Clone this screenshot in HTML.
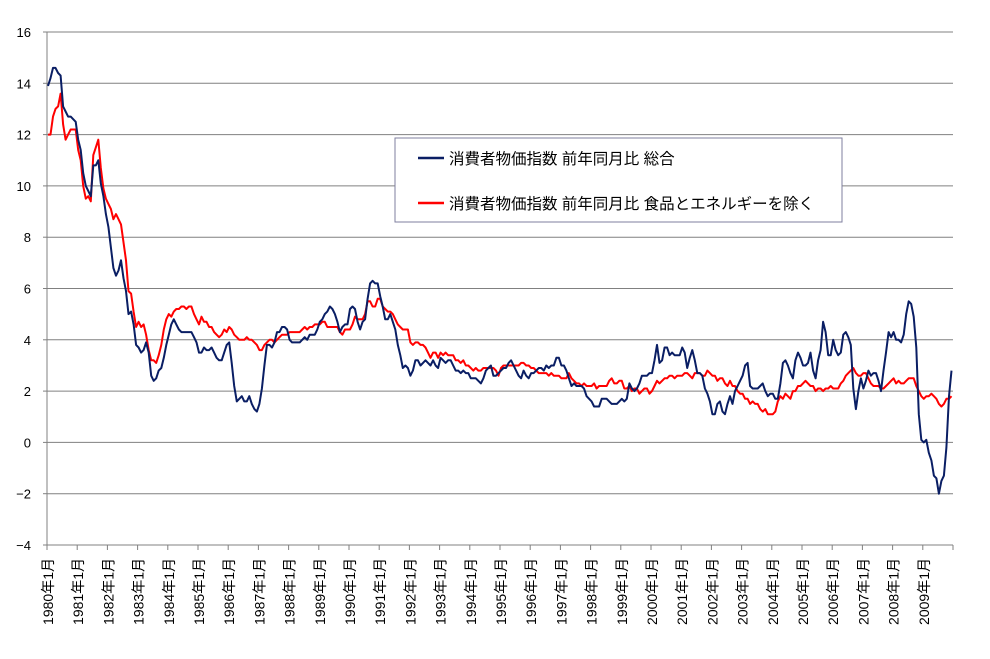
<!DOCTYPE html>
<html><head><meta charset="utf-8"><style>
body{margin:0;background:#fff;}
svg text{font-family:"Liberation Sans","Noto Sans CJK JP",sans-serif;}
</style></head><body>
<svg id="chart" width="990" height="654" xmlns="http://www.w3.org/2000/svg">
<g id="grid"></g>
<g id="axes"></g>
<g id="series"></g>
<g>
<rect x="395" y="138" width="447" height="84" fill="#fff" stroke="#7f7f9f" stroke-width="1"/>
<line x1="418" y1="158" x2="444" y2="158" stroke="#0a1e64" stroke-width="2.5"/>
<text x="449" y="164" font-size="15.5" fill="#000">消費者物価指数  前年同月比  総合</text>
<line x1="418" y1="203" x2="444" y2="203" stroke="#ff0000" stroke-width="2.5"/>
<text x="449" y="209" font-size="15.5" fill="#000">消費者物価指数  前年同月比  食品とエネルギーを除く</text>
</g>
</svg>
<script>
const years = [1980,1981,1982,1983,1984,1985,1986,1987,1988,1989,1990,1991,1992,1993,1994,1995,1996,1997,1998,1999,2000,2001,2002,2003,2004,2005,2006,2007,2008,2009];
const yTicks = [16,14,12,10,8,6,4,2,0,-2,-4];
const headline = [
13.9,14.2,14.6,14.6,14.4,14.3,13.1,12.9,12.7,12.7,12.6,12.5,
11.8,11.4,10.5,10.0,9.8,9.6,10.8,10.8,11.0,10.1,9.6,8.9,
8.4,7.6,6.8,6.5,6.7,7.1,6.4,5.9,5.0,5.1,4.6,3.8,
3.7,3.5,3.6,3.9,3.5,2.6,2.4,2.5,2.8,2.9,3.3,3.8,
4.2,4.6,4.8,4.6,4.4,4.3,4.3,4.3,4.3,4.3,4.1,3.9,
3.5,3.5,3.7,3.6,3.6,3.7,3.5,3.3,3.2,3.2,3.5,3.8,
3.9,3.1,2.2,1.6,1.7,1.8,1.6,1.6,1.8,1.5,1.3,1.2,
1.5,2.1,3.0,3.8,3.8,3.7,3.9,4.3,4.3,4.5,4.5,4.4,
4.0,3.9,3.9,3.9,3.9,4.0,4.1,4.0,4.2,4.2,4.2,4.4,
4.7,4.8,5.0,5.1,5.3,5.2,5.0,4.7,4.3,4.5,4.6,4.6,
5.2,5.3,5.2,4.7,4.4,4.7,4.8,5.6,6.2,6.3,6.2,6.2,
5.7,5.3,4.8,4.8,5.0,4.7,4.4,3.8,3.4,2.9,3.0,2.9,
2.6,2.8,3.2,3.2,3.0,3.1,3.2,3.1,3.0,3.2,3.0,2.9,
3.3,3.2,3.1,3.2,3.2,3.0,2.8,2.8,2.7,2.8,2.7,2.7,
2.5,2.5,2.5,2.4,2.3,2.5,2.8,2.9,3.0,2.6,2.6,2.7,
2.8,2.9,2.9,3.1,3.2,3.0,2.8,2.6,2.5,2.8,2.6,2.5,
2.7,2.7,2.8,2.9,2.9,2.8,3.0,2.9,3.0,3.0,3.3,3.3,
3.0,3.0,2.8,2.5,2.2,2.3,2.2,2.2,2.2,2.1,1.8,1.7,
1.6,1.4,1.4,1.4,1.7,1.7,1.7,1.6,1.5,1.5,1.5,1.6,
1.7,1.6,1.7,2.3,2.1,2.0,2.1,2.3,2.6,2.6,2.6,2.7,
2.7,3.2,3.8,3.1,3.2,3.7,3.7,3.4,3.5,3.4,3.4,3.4,
3.7,3.5,2.9,3.3,3.6,3.2,2.7,2.7,2.6,2.1,1.9,1.6,
1.1,1.1,1.5,1.6,1.2,1.1,1.5,1.8,1.5,2.0,2.2,2.4,
2.6,3.0,3.1,2.2,2.1,2.1,2.1,2.2,2.3,2.0,1.8,1.9,
1.9,1.7,1.7,2.3,3.1,3.2,3.0,2.7,2.5,3.2,3.5,3.3,
3.0,3.0,3.1,3.5,2.8,2.5,3.2,3.6,4.7,4.3,3.4,3.4,
4.0,3.6,3.4,3.5,4.2,4.3,4.1,3.8,2.1,1.3,2.0,2.5,
2.1,2.4,2.8,2.6,2.7,2.7,2.4,2.0,2.8,3.5,4.3,4.1,
4.3,4.0,4.0,3.9,4.2,5.0,5.5,5.4,4.9,3.7,1.1,0.1,
0.0,0.1,-0.4,-0.7,-1.3,-1.4,-2.0,-1.5,-1.3,-0.2,1.8,2.8];
const core = [
12.0,12.0,12.7,13.0,13.1,13.6,12.4,11.8,12.0,12.2,12.2,12.2,
11.4,11.0,10.0,9.5,9.6,9.4,11.2,11.5,11.8,10.7,9.9,9.5,
9.3,9.1,8.7,8.9,8.7,8.5,7.8,7.1,5.9,5.8,5.1,4.5,
4.7,4.5,4.6,4.2,3.6,3.2,3.2,3.1,3.4,3.8,4.4,4.8,
5.0,4.9,5.1,5.2,5.2,5.3,5.3,5.2,5.3,5.3,5.0,4.8,
4.6,4.9,4.7,4.7,4.5,4.5,4.3,4.2,4.1,4.2,4.4,4.3,
4.5,4.4,4.2,4.1,4.0,4.0,4.0,4.1,4.0,4.0,3.9,3.8,
3.6,3.6,3.8,3.9,4.0,4.0,3.9,4.0,4.1,4.2,4.2,4.2,
4.3,4.3,4.3,4.3,4.3,4.4,4.5,4.4,4.5,4.5,4.6,4.6,
4.6,4.7,4.7,4.5,4.5,4.5,4.5,4.5,4.3,4.2,4.4,4.4,
4.4,4.6,4.9,4.8,4.8,4.8,5.0,5.5,5.5,5.3,5.3,5.6,
5.6,5.3,5.2,5.1,5.1,5.0,4.8,4.6,4.5,4.4,4.4,4.4,
3.9,3.8,3.9,3.9,3.8,3.8,3.7,3.5,3.3,3.5,3.5,3.3,
3.5,3.4,3.5,3.4,3.4,3.4,3.2,3.2,3.1,3.2,3.0,3.0,
2.9,2.8,2.9,2.8,2.8,2.9,2.9,2.9,2.9,2.9,2.8,2.6,
2.9,3.0,3.0,3.0,3.0,3.0,3.0,3.0,3.1,3.1,3.0,3.0,
2.9,2.9,2.8,2.7,2.7,2.7,2.7,2.6,2.7,2.6,2.6,2.6,
2.5,2.5,2.5,2.7,2.5,2.4,2.3,2.3,2.2,2.3,2.2,2.2,
2.2,2.3,2.1,2.2,2.2,2.2,2.2,2.4,2.5,2.3,2.3,2.4,
2.4,2.1,2.1,2.2,2.0,2.1,2.1,1.9,2.0,2.1,2.1,1.9,
2.0,2.2,2.4,2.3,2.4,2.5,2.5,2.6,2.6,2.5,2.6,2.6,
2.6,2.7,2.7,2.6,2.5,2.7,2.7,2.7,2.6,2.6,2.8,2.7,
2.6,2.6,2.4,2.5,2.5,2.3,2.2,2.4,2.2,2.2,2.0,1.9,
1.9,1.7,1.7,1.5,1.6,1.5,1.5,1.3,1.2,1.3,1.1,1.1,
1.1,1.2,1.6,1.8,1.7,1.9,1.8,1.7,2.0,2.0,2.2,2.2,
2.3,2.4,2.3,2.2,2.2,2.0,2.1,2.1,2.0,2.1,2.1,2.2,
2.1,2.1,2.1,2.3,2.4,2.6,2.7,2.8,2.9,2.7,2.6,2.6,
2.7,2.7,2.5,2.3,2.2,2.2,2.2,2.1,2.1,2.2,2.3,2.4,
2.5,2.3,2.4,2.3,2.3,2.4,2.5,2.5,2.5,2.2,2.0,1.8,
1.7,1.8,1.8,1.9,1.8,1.7,1.5,1.4,1.5,1.7,1.7,1.8];

const NS='http://www.w3.org/2000/svg';
const X0=47, X1=953, YTOP=32, YBOT=545, VMIN=-4, VMAX=16;
const monthW=(X1-X0)/(years.length*12);
function xm(i){return X0+i*monthW+1;}
function yv(v){return YBOT-(v-VMIN)/(VMAX-VMIN)*(YBOT-YTOP);}
function mk(tag,attrs,parent){const e=document.createElementNS(NS,tag);for(const k in attrs)e.setAttribute(k,attrs[k]);parent.appendChild(e);return e;}
const grid=document.getElementById('grid'), axes=document.getElementById('axes'), series=document.getElementById('series');
yTicks.forEach(t=>{
  if(t!==VMIN){const l=mk('line',{x1:X0,x2:X1,y1:yv(t),y2:yv(t),stroke:'#808080','stroke-width':1},grid);
  
  }
  const tk=mk('line',{x1:X0-4,x2:X0,y1:yv(t),y2:yv(t),stroke:'#808080'},axes);
  
  
  const tx=mk('text',{x:31,y:yv(t)+5,'text-anchor':'end','font-size':13,fill:'#000'},axes);
  tx.textContent=t<0?'−'+(-t):String(t);
  
  
});
const ya=mk('line',{x1:X0,x2:X0,y1:YTOP,y2:YBOT,stroke:'#808080'},axes);


const xa=mk('line',{x1:X0,x2:X1,y1:YBOT,y2:YBOT,stroke:'#808080'},axes);


for(let k=0;k<=years.length;k++){
  const x=X0+k*12*monthW;
  const tk=mk('line',{x1:x,x2:x,y1:YBOT,y2:YBOT+5,stroke:'#808080'},axes);
  
  
}
years.forEach((yr,k)=>{
  const x=X0+k*12*monthW+6;
  const tx=mk('text',{x:0,y:0,'font-size':14,fill:'#000','text-anchor':'end',transform:`translate(${x},558) rotate(-90)`},axes);
  tx.textContent=yr+'年1月';
  
  
});
function drawLine(vals,color,name){
  const d=vals.map((v,i)=>(i?'L':'M')+xm(i).toFixed(1)+','+yv(v).toFixed(1)).join('');
  const p=mk('path',{d:d,fill:'none',stroke:color,'stroke-width':2,'stroke-linejoin':'round'},series);
  
  
}
drawLine(core,'#ff0000','line-core-cpi');
drawLine(headline,'#0a1e64','line-headline-cpi');
</script>
</body></html>
